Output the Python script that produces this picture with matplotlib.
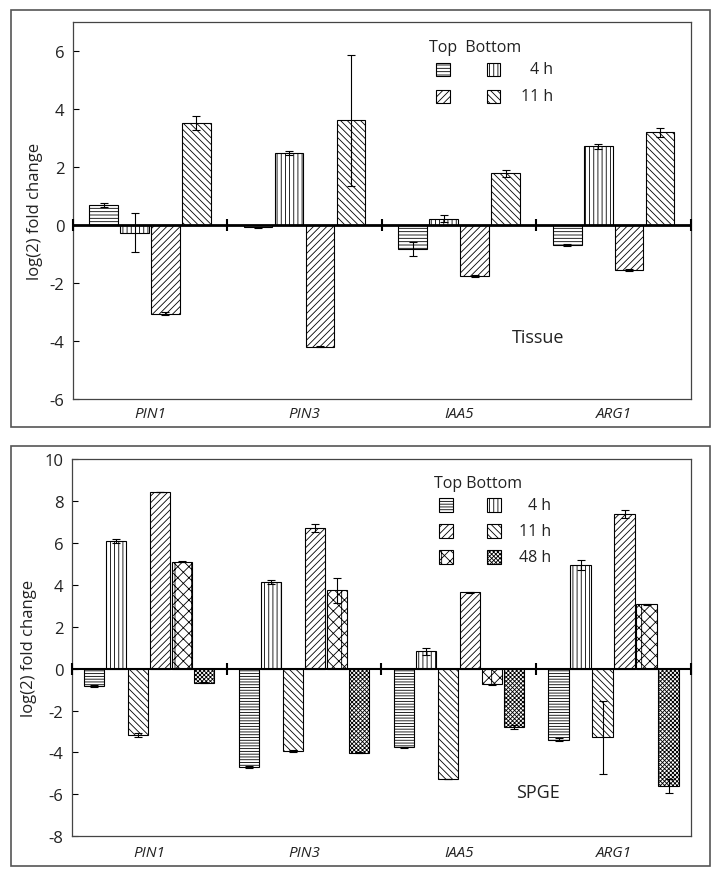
import numpy as np
import matplotlib
matplotlib.use('Agg')
import matplotlib.pyplot as plt
from matplotlib.patches import Rectangle

plt.rcParams['font.family'] = ['Open Sans', 'DejaVu Sans']
plt.rcParams['axes.unicode_minus'] = False
plt.rcParams['hatch.linewidth'] = 0.6
plt.rcParams['hatch.color'] = 'black'

genes = ['PIN1', 'PIN3', 'IAA5', 'ARG1']

# Tissue panel: Top 4 h, Bottom 4 h, Top 11 h, Bottom 11 h
tis_top_4h = [0.70, -0.08, -0.82, -0.69]
tis_top_4h_err = [0.07, 0.02, 0.25, 0.04]
tis_bot_4h = [-0.26, 2.49, 0.22, 2.71]
tis_bot_4h_err = [0.67, 0.07, 0.12, 0.10]
tis_top_11h = [-3.06, -4.20, -1.76, -1.56]
tis_top_11h_err = [0.05, 0.02, 0.04, 0.03]
tis_bot_11h = [3.52, 3.61, 1.79, 3.20]
tis_bot_11h_err = [0.25, 2.25, 0.12, 0.15]

# SPGE panel: Top 4 h, Bottom 4 h, Bottom 11 h, Top 11 h, Top 48 h, Bottom 48 h
sp_top_4h = [-0.82, -4.68, -3.76, -3.39]
sp_top_4h_err = [0.05, 0.04, 0.04, 0.06]
sp_bot_4h = [6.10, 4.12, 0.82, 4.94]
sp_bot_4h_err = [0.10, 0.10, 0.16, 0.24]
sp_bot_11h = [-3.17, -3.92, -5.27, -3.28]
sp_bot_11h_err = [0.10, 0.04, 0.02, 1.75]
sp_top_11h = [8.44, 6.71, 3.64, 7.38]
sp_top_11h_err = [0.0, 0.20, 0.02, 0.20]
sp_top_48h = [5.10, 3.73, -0.74, 3.06]
sp_top_48h_err = [0.02, 0.58, 0.02, 0.04]
sp_bot_48h = [-0.67, -4.01, -2.80, -5.59]
sp_bot_48h_err = [0.03, 0.02, 0.10, 0.33]

W, H = 720, 879
fig = plt.figure(figsize=(W / 100, H / 100), dpi=100)

H_TOP4 = '-----'
H_BOT4 = '||||'
H_UP = '/////'
H_DOWN = '\\\\\\\\\\'
H_TOP48 = 'xxx|'
H_BOT48 = 'xxxxxxxx'


def fx(x):
    return x / W


def fy(y):
    return 1 - y / H


def frame(x0, y0, x1, y1):
    fig.patches.append(Rectangle((fx(x0), fy(y1)), fx(x1 - x0), (y1 - y0) / H,
                                 transform=fig.transFigure, fill=False,
                                 edgecolor='#555555', lw=1.2))


def legend_patch(xc, yc, hatch, size=13):
    fig.patches.append(Rectangle((fx(xc - size / 2), fy(yc + size / 2)), fx(size), size / H,
                                 transform=fig.transFigure, facecolor='white',
                                 edgecolor='black', lw=0.8, hatch=hatch))


def panel(box, series, errs, hatches, step, width, ylim, yticks, zero_lw):
    ax = fig.add_axes(box)
    n = len(series)
    x = np.arange(len(genes)) + 0.5
    for j in range(n):
        off = (j - (n - 1) / 2) * step
        ax.bar(x + off, series[j], width, facecolor='white', edgecolor='black',
               lw=0.8, hatch=hatches[j], zorder=2)
        ax.errorbar(x + off, series[j], yerr=errs[j], fmt='none', ecolor='black',
                    elinewidth=0.8, capsize=3, capthick=0.8, zorder=3)
    ax.axhline(0, color='black', lw=zero_lw, zorder=4)
    ax.plot(np.arange(len(genes) + 1), np.zeros(len(genes) + 1), ls='none',
            marker='|', markersize=9, mew=1.5, color='black', zorder=5, clip_on=False)
    ax.set_xlim(0, len(genes))
    ax.set_ylim(*ylim)
    ax.set_yticks(yticks)
    ax.set_xticks([])
    ax.tick_params(axis='y', direction='in', length=4, width=0.8, labelsize=12, pad=6,
                   labelcolor='#222222')
    for s in ax.spines.values():
        s.set_color('#444444')
        s.set_linewidth(0.9)
    ax.set_ylabel('log(2) fold change', fontsize=12, color='#222222', labelpad=5)
    return ax


# ---------- Tissue panel ----------
frame(11, 11, 710, 428)
ax1 = panel([fx(72.7), fy(400), fx(691 - 72.7), (400 - 23) / H],
            [tis_top_4h, tis_bot_4h, tis_top_11h, tis_bot_11h],
            [tis_top_4h_err, tis_bot_4h_err, tis_top_11h_err, tis_bot_11h_err],
            [H_TOP4, H_BOT4, H_UP, H_DOWN],
            0.2, 0.185, (-6, 7), range(-6, 7, 2), 2.0)
for i, g in enumerate(genes):
    fig.text(fx(72.7 + (i + 0.5) * (691 - 72.7) / 4), fy(415), g, style='italic',
             ha='center', va='center', fontsize=11, color='#222222')
fig.text(fx(475), fy(48), 'Top  Bottom', ha='center', va='center', fontsize=11.5, color='#222222')
legend_patch(443, 70, H_TOP4)
legend_patch(493, 70, H_BOT4)
legend_patch(443, 97, H_UP)
legend_patch(493, 97, H_DOWN)
fig.text(fx(553), fy(70), '4 h', ha='right', va='center', fontsize=11.5, color='#222222')
fig.text(fx(553), fy(97), '11 h', ha='right', va='center', fontsize=11.5, color='#222222')
fig.text(fx(538), fy(338), 'Tissue', ha='center', va='center', fontsize=13, color='#222222')

# ---------- SPGE panel ----------
frame(11, 447, 710, 867)
ax2 = panel([fx(71.7), fy(837.3), fx(691 - 71.7), (837.3 - 460) / H],
            [sp_top_4h, sp_bot_4h, sp_bot_11h, sp_top_11h, sp_top_48h, sp_bot_48h],
            [sp_top_4h_err, sp_bot_4h_err, sp_bot_11h_err, sp_top_11h_err,
             sp_top_48h_err, sp_bot_48h_err],
            ['------', H_BOT4, H_DOWN, H_UP, H_TOP48, H_BOT48],
            0.142, 0.132, (-8, 10), range(-8, 11, 2), 1.5)
for i, g in enumerate(genes):
    fig.text(fx(71.7 + (i + 0.5) * (691 - 71.7) / 4), fy(854), g, style='italic',
             ha='center', va='center', fontsize=11, color='#222222')
fig.text(fx(478), fy(484), 'Top Bottom', ha='center', va='center', fontsize=11.5, color='#222222')
legend_patch(446, 506, '------', 14)
legend_patch(494, 506, H_BOT4, 14)
legend_patch(446, 532, H_UP, 14)
legend_patch(494, 532, H_DOWN, 14)
legend_patch(446, 558, H_TOP48, 14)
legend_patch(494, 558, H_BOT48, 14)
fig.text(fx(551), fy(506), '4 h', ha='right', va='center', fontsize=11.5, color='#222222')
fig.text(fx(551), fy(532), '11 h', ha='right', va='center', fontsize=11.5, color='#222222')
fig.text(fx(551), fy(558), '48 h', ha='right', va='center', fontsize=11.5, color='#222222')
fig.text(fx(538), fy(793), 'SPGE', ha='center', va='center', fontsize=13, color='#222222')

fig.savefig('out.png', dpi=100)
